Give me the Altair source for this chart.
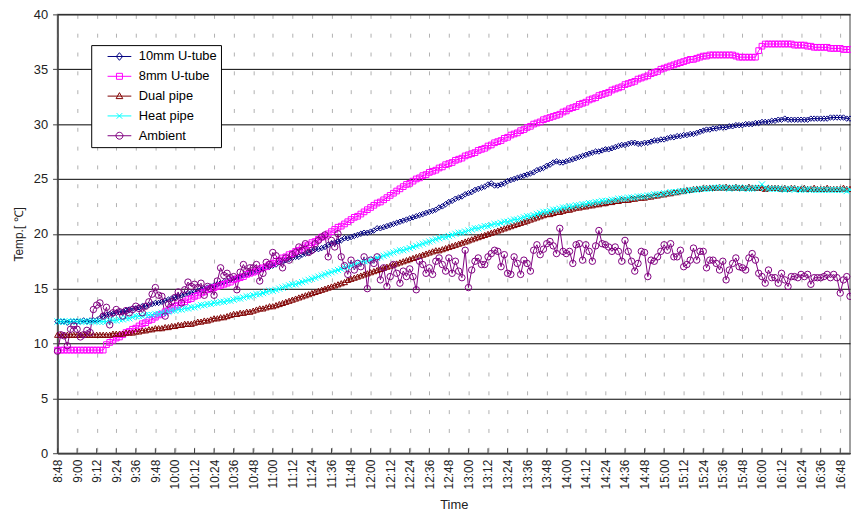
import altair as alt
import pandas as pd

FONT = "Liberation Sans"
START_MIN = 8 * 60 + 48
STEP_MIN = 2

series_names = ["10mm U-tube", "8mm U-tube", "Dual pipe", "Heat pipe", "Ambient"]
series_colors = ["#000080", "#FF00FF", "#800000", "#00FFFF", "#800080"]
series_shapes = ["diamond", "square", "triangle-up", "M-1,-1L1,1M-1,1L1,-1", "circle"]
series_sizes = [30, 42, 34, 36, 50]
tick_minutes = list(range(0, 481, 12))

tube_10mm = [
    12.0, 12.0, 12.0, 11.9, 12.0, 12.0, 12.0, 12.0, 12.1, 12.0, 12.1, 12.1,
    12.1, 12.3, 12.5, 12.6, 12.7, 12.7, 12.8, 12.9, 12.9, 13.0, 13.1, 13.2,
    13.2, 13.3, 13.4, 13.4, 13.5, 13.6, 13.7, 13.7, 13.8, 13.9, 14.0, 14.1,
    14.2, 14.3, 14.4, 14.5, 14.6, 14.6, 14.7, 14.8, 14.9, 15.0, 15.1, 15.2,
    15.3, 15.4, 15.5, 15.6, 15.7, 15.8, 15.9, 16.0, 16.1, 16.2, 16.3, 16.4,
    16.5, 16.6, 16.7, 16.8, 17.0, 17.0, 17.1, 17.2, 17.4, 17.5, 17.6, 17.7,
    17.8, 17.9, 17.9, 18.1, 18.2, 18.3, 18.4, 18.6, 18.6, 18.7, 18.8, 19.0,
    19.1, 19.2, 19.3, 19.4, 19.6, 19.6, 19.7, 19.8, 19.9, 20.0, 20.1, 20.1,
    20.2, 20.3, 20.5, 20.5, 20.6, 20.7, 20.8, 20.9, 21.0, 21.1, 21.2, 21.3,
    21.4, 21.5, 21.6, 21.7, 21.8, 21.9, 22.0, 22.1, 22.2, 22.4, 22.5, 22.7,
    22.9, 23.0, 23.2, 23.3, 23.4, 23.6, 23.7, 23.8, 24.0, 24.1, 24.2, 24.3,
    24.5, 24.6, 24.4, 24.4, 24.5, 24.6, 24.8, 24.9, 25.0, 25.1, 25.2, 25.3,
    25.4, 25.5, 25.6, 25.8, 25.9, 26.0, 26.2, 26.3, 26.5, 26.6, 26.5, 26.5,
    26.6, 26.7, 26.8, 26.9, 27.0, 27.1, 27.2, 27.3, 27.4, 27.5, 27.5, 27.6,
    27.7, 27.7, 27.8, 27.9, 28.0, 28.1, 28.1, 28.2, 28.3, 28.3, 28.2, 28.2,
    28.3, 28.3, 28.4, 28.5, 28.5, 28.6, 28.6, 28.7, 28.8, 28.8, 28.9, 28.9,
    29.0, 29.0, 29.1, 29.1, 29.2, 29.3, 29.4, 29.5, 29.5, 29.6, 29.6, 29.7,
    29.7, 29.7, 29.8, 29.8, 29.9, 29.9, 29.9, 30.0, 30.0, 30.0, 30.1, 30.1,
    30.2, 30.2, 30.2, 30.3, 30.3, 30.4, 30.4, 30.5, 30.4, 30.4, 30.4, 30.4,
    30.4, 30.4, 30.4, 30.5, 30.5, 30.5, 30.5, 30.5, 30.5, 30.6, 30.6, 30.6,
    30.6, 30.6, 30.5, 30.5,
]

tube_8mm = [
    9.4, 9.4, 9.4, 9.4, 9.4, 9.4, 9.4, 9.4, 9.4, 9.4, 9.4, 9.4,
    9.4, 9.4, 9.4, 9.9, 10.1, 10.3, 10.5, 10.6, 10.8, 11.0, 11.1, 11.3,
    11.4, 11.6, 11.8, 11.9, 12.1, 12.2, 12.4, 12.6, 12.7, 12.9, 13.0, 13.2,
    13.4, 13.5, 13.7, 13.8, 14.0, 14.1, 14.3, 14.4, 14.6, 14.7, 14.9, 15.0,
    15.1, 15.2, 15.3, 15.4, 15.5, 15.6, 15.8, 15.9, 16.0, 16.1, 16.3, 16.4,
    16.5, 16.6, 16.8, 16.9, 17.0, 17.2, 17.3, 17.5, 17.6, 17.8, 17.9, 18.1,
    18.2, 18.4, 18.5, 18.7, 18.9, 19.0, 19.2, 19.3, 19.5, 19.7, 19.8, 20.0,
    20.2, 20.4, 20.6, 20.7, 20.9, 21.1, 21.3, 21.5, 21.6, 21.8, 22.0, 22.2,
    22.4, 22.6, 22.8, 22.9, 23.1, 23.3, 23.5, 23.7, 23.9, 24.1, 24.3, 24.5,
    24.6, 24.8, 25.0, 25.1, 25.3, 25.4, 25.6, 25.7, 25.8, 26.0, 26.1, 26.3,
    26.4, 26.5, 26.7, 26.8, 26.9, 27.1, 27.2, 27.3, 27.4, 27.6, 27.7, 27.8,
    28.0, 28.1, 28.3, 28.4, 28.5, 28.7, 28.8, 29.0, 29.1, 29.2, 29.4, 29.5,
    29.7, 29.8, 30.0, 30.1, 30.2, 30.4, 30.5, 30.6, 30.7, 30.8, 30.9, 31.1,
    31.2, 31.4, 31.5, 31.6, 31.8, 31.9, 32.0, 32.2, 32.3, 32.4, 32.6, 32.7,
    32.8, 32.9, 33.1, 33.2, 33.3, 33.4, 33.6, 33.7, 33.8, 33.9, 34.1, 34.2,
    34.3, 34.4, 34.6, 34.7, 34.8, 35.0, 35.1, 35.2, 35.3, 35.4, 35.5, 35.6,
    35.7, 35.8, 35.9, 35.9, 36.0, 36.1, 36.2, 36.2, 36.3, 36.3, 36.3, 36.3,
    36.3, 36.3, 36.3, 36.3, 36.2, 36.1, 36.1, 36.1, 36.1, 36.1, 36.1, 36.7,
    37.1, 37.3, 37.3, 37.3, 37.3, 37.3, 37.3, 37.3, 37.3, 37.3, 37.2, 37.2,
    37.2, 37.2, 37.1, 37.1, 37.0, 37.0, 37.0, 37.0, 37.0, 36.9, 36.9, 36.9,
    36.9, 36.8, 36.8, 36.8,
]

dual_pipe = [
    10.8, 10.8, 10.8, 10.8, 10.8, 10.8, 10.8, 10.8, 10.8, 10.8, 10.8, 10.8,
    10.8, 10.8, 10.8, 10.8, 10.8, 10.9, 10.9, 10.9, 10.9, 11.0, 11.0, 11.0,
    11.1, 11.1, 11.2, 11.2, 11.3, 11.3, 11.4, 11.4, 11.4, 11.5, 11.5, 11.6,
    11.6, 11.7, 11.7, 11.8, 11.8, 11.8, 11.9, 12.0, 12.0, 12.1, 12.1, 12.2,
    12.3, 12.3, 12.4, 12.4, 12.5, 12.6, 12.7, 12.7, 12.8, 12.8, 12.9, 12.9,
    13.0, 13.1, 13.2, 13.2, 13.3, 13.4, 13.4, 13.5, 13.6, 13.7, 13.8, 13.9,
    14.0, 14.1, 14.2, 14.3, 14.4, 14.5, 14.6, 14.7, 14.8, 14.9, 15.0, 15.1,
    15.2, 15.3, 15.4, 15.5, 15.6, 15.8, 15.9, 16.0, 16.1, 16.2, 16.3, 16.4,
    16.5, 16.6, 16.7, 16.8, 16.9, 17.0, 17.1, 17.2, 17.3, 17.4, 17.5, 17.6,
    17.7, 17.8, 17.9, 18.0, 18.1, 18.2, 18.3, 18.4, 18.5, 18.5, 18.6, 18.7,
    18.8, 18.9, 19.0, 19.1, 19.2, 19.3, 19.4, 19.5, 19.6, 19.7, 19.8, 19.9,
    20.0, 20.1, 20.2, 20.3, 20.4, 20.5, 20.6, 20.7, 20.8, 20.9, 21.0, 21.1,
    21.2, 21.3, 21.4, 21.5, 21.6, 21.7, 21.8, 21.8, 21.9, 22.0, 22.0, 22.1,
    22.2, 22.2, 22.3, 22.4, 22.4, 22.5, 22.5, 22.6, 22.6, 22.7, 22.7, 22.8,
    22.8, 22.9, 22.9, 23.0, 23.0, 23.1, 23.1, 23.1, 23.2, 23.2, 23.3, 23.3,
    23.3, 23.4, 23.4, 23.5, 23.5, 23.6, 23.6, 23.7, 23.7, 23.8, 23.8, 23.9,
    23.9, 24.0, 24.0, 24.1, 24.1, 24.1, 24.2, 24.2, 24.2, 24.2, 24.2, 24.3,
    24.2, 24.3, 24.2, 24.2, 24.3, 24.2, 24.2, 24.2, 24.3, 24.2, 24.2, 24.2,
    24.2, 24.1, 24.2, 24.2, 24.2, 24.2, 24.1, 24.2, 24.1, 24.2, 24.2, 24.1,
    24.1, 24.2, 24.1, 24.1, 24.2, 24.1, 24.1, 24.1, 24.2, 24.1, 24.1, 24.1,
    24.1, 24.2, 24.1, 24.1,
]

heat_pipe = [
    12.0, 12.0, 12.0, 12.0, 12.0, 12.0, 12.0, 12.0, 12.0, 12.0, 12.0, 12.0,
    12.0, 12.0, 12.0, 12.0, 12.1, 12.1, 12.1, 12.2, 12.2, 12.3, 12.3, 12.4,
    12.5, 12.5, 12.5, 12.6, 12.6, 12.6, 12.7, 12.7, 12.8, 12.8, 12.9, 13.0,
    13.0, 13.1, 13.1, 13.2, 13.2, 13.3, 13.3, 13.4, 13.5, 13.5, 13.6, 13.6,
    13.7, 13.7, 13.8, 13.8, 13.9, 13.9, 14.0, 14.1, 14.1, 14.2, 14.3, 14.3,
    14.4, 14.5, 14.5, 14.6, 14.7, 14.8, 14.8, 14.9, 15.0, 15.1, 15.2, 15.3,
    15.4, 15.4, 15.5, 15.6, 15.7, 15.8, 15.9, 16.0, 16.1, 16.2, 16.3, 16.4,
    16.5, 16.6, 16.7, 16.8, 16.9, 17.0, 17.1, 17.2, 17.3, 17.4, 17.5, 17.5,
    17.6, 17.7, 17.8, 17.9, 18.0, 18.1, 18.2, 18.3, 18.4, 18.5, 18.5, 18.6,
    18.7, 18.8, 18.9, 19.0, 19.1, 19.2, 19.3, 19.4, 19.5, 19.6, 19.7, 19.7,
    19.8, 19.9, 20.0, 20.1, 20.1, 20.2, 20.3, 20.4, 20.5, 20.5, 20.6, 20.7,
    20.7, 20.8, 20.9, 20.9, 21.0, 21.1, 21.1, 21.2, 21.3, 21.3, 21.4, 21.5,
    21.6, 21.6, 21.7, 21.8, 21.9, 22.0, 22.0, 22.1, 22.2, 22.2, 22.3, 22.4,
    22.4, 22.5, 22.5, 22.6, 22.6, 22.7, 22.7, 22.8, 22.8, 22.9, 22.9, 23.0,
    23.0, 23.0, 23.1, 23.1, 23.2, 23.2, 23.2, 23.3, 23.3, 23.3, 23.4, 23.4,
    23.4, 23.5, 23.5, 23.6, 23.6, 23.6, 23.7, 23.7, 23.8, 23.8, 23.8, 23.9,
    23.9, 23.9, 24.0, 24.0, 24.0, 24.1, 24.1, 24.1, 24.1, 24.2, 24.2, 24.2,
    24.2, 24.2, 24.1, 24.2, 24.2, 24.2, 24.1, 24.2, 24.1, 24.1, 24.2, 24.2,
    24.5, 24.2, 24.1, 24.1, 24.1, 24.1, 24.1, 24.0, 24.1, 24.1, 24.0, 24.1,
    24.0, 24.0, 24.1, 24.0, 24.0, 24.0, 24.0, 24.0, 24.0, 24.0, 24.0, 24.0,
    24.0, 24.0, 23.9, 24.0,
]

ambient = [
    9.3, 10.8, 10.7, 9.8, 11.3, 11.6, 11.3, 10.6, 10.8, 11.2, 11.0,
    13.1, 13.5, 13.7, 12.5, 13.3, 11.7, 12.8, 13.1, 12.9, 12.5,
    13.0, 12.8, 13.1, 13.4, 13.2, 12.8, 13.4, 13.8, 14.5, 15.1,
    14.4, 14.3, 12.5, 13.6, 13.8, 14.2, 14.7, 13.7, 14.9, 15.6,
    15.2, 15.4, 15.1, 15.5, 14.4, 15.2, 15.0, 14.4, 15.7, 16.9,
    16.2, 16.4, 16.0, 16.1, 14.9, 16.5, 17.2, 16.6, 16.9, 16.9,
    17.2, 15.7, 16.4, 17.4, 17.2, 18.3, 18.0, 17.5, 16.9, 17.8,
    17.6, 18.1, 18.3, 18.8, 18.5, 19.1, 18.3, 18.5, 19.1, 19.4,
    19.7, 19.9, 17.9, 19.4, 18.8, 20.0, 17.9, 17.1, 16.3, 17.6,
    16.7, 17.3, 17.0, 17.9, 15.0, 17.6, 17.3, 17.9, 15.8, 16.9,
    15.2, 16.1, 17.2, 16.4, 15.5, 16.6, 16.1, 16.8, 16.1, 14.9,
    17.5, 17.2, 16.4, 16.9, 16.3, 17.5, 17.8, 17.2, 16.6, 17.8,
    16.4, 17.5, 16.6, 16.0, 18.5, 15.1, 16.7, 17.5, 17.8, 17.2,
    17.2, 17.9, 18.2, 18.5, 18.4, 17.0, 18.1, 16.4, 16.3, 17.9,
    17.3, 16.3, 17.6, 17.3, 16.6, 18.5, 19.0, 18.1, 18.6, 19.1,
    19.3, 18.9, 18.2, 20.5, 18.4, 18.2, 18.4, 17.3, 19.0, 19.1,
    17.6, 19.0, 18.4, 17.5, 18.9, 20.3, 19.1, 19.0, 18.8, 18.4,
    18.8, 18.4, 17.5, 19.4, 18.4, 17.5, 16.6, 17.3, 18.4, 18.3,
    16.1, 17.6, 17.5, 17.9, 18.4, 19.0, 18.5, 19.1, 17.9, 17.9,
    18.5, 17.0, 17.2, 17.6, 18.7, 17.6, 18.4, 18.4, 16.9, 17.6,
    17.6, 17.3, 16.7, 17.5, 15.8, 16.7, 17.3, 17.8, 17.0, 16.9,
    16.7, 17.8, 18.2, 17.6, 16.4, 16.1, 15.5, 16.7, 16.0, 16.0,
    15.5, 16.4, 15.8, 15.2, 16.1, 16.1, 16.0, 16.3, 16.1, 16.3,
    15.4, 16.0, 16.0, 16.0, 16.1, 16.3, 16.0, 16.3, 16.0, 14.6,
    15.8, 16.1, 14.3,
]

all_series = [tube_10mm, tube_8mm, dual_pipe, heat_pipe, ambient]

rows = []
for i, (name, vals) in enumerate(zip(series_names, all_series)):
    for k, v in enumerate(vals):
        rows.append({"series": name, "marker": name, "order": i,
                     "t": k * STEP_MIN, "temp": v})
df = pd.DataFrame(rows)
ticks_df = pd.DataFrame({"t": tick_minutes})
legend_df = pd.DataFrame({"series": series_names, "t": [None] * 5, "temp": [None] * 5})

label_expr = (
    f"floor((datum.value+{START_MIN})/60) + ':' + "
    f"((datum.value+{START_MIN})%60 < 10 ? '0' : '') + ((datum.value+{START_MIN})%60)"
)

x_scale = alt.Scale(domain=[0, 486], nice=False, zero=False)
y_scale = alt.Scale(domain=[0, 40], nice=False)

x_axis = alt.Axis(
    values=tick_minutes,
    labelExpr=label_expr,
    labelAngle=270,
    labelOverlap=False,
    labelFlush=False,
    title="Time",
    grid=True,
    gridDash=[4, 15],
    gridColor="#b0b0b0",
    gridWidth=1,
    ticks=False,
    labelPadding=6,
    titlePadding=10,
    labelFontSize=12,
    titleFontSize=13,
)
y_axis = alt.Axis(
    values=list(range(0, 41, 5)),
    title="Temp.[ ℃]",
    grid=True,
    gridColor="#000000",
    gridWidth=1,
    tickSize=5,
    tickColor="#404040",
    labelPadding=5,
    titlePadding=8,
    labelFontSize=13,
    titleFontSize=12,
)

x_enc = alt.X("t:Q", scale=x_scale, axis=x_axis)
y_enc = alt.Y("temp:Q", scale=y_scale, axis=y_axis)

# legend symbols: a short line with the series marker (unit = 7 px)
_line = "M-1.71,0H1.71"
legend_paths = [
    _line + "M0,-0.55L0.45,0L0,0.55L-0.45,0Z",
    _line + "M-0.43,-0.43H0.43V0.43H-0.43Z",
    _line + "M0,-0.5L0.48,0.36H-0.48Z",
    _line + "M-0.4,-0.4L0.4,0.4M-0.4,0.4L0.4,-0.4",
    _line + "M-0.5,0A0.5,0.5,0,1,0,0.5,0A0.5,0.5,0,1,0,-0.5,0",
]

color_scale = alt.Scale(domain=series_names, range=series_colors)

legend_props = dict(
    title=None,
    orient="none",
    legendX=34,
    legendY=31,
    padding=4,
    fillColor="white",
    strokeColor="black",
    labelFont=FONT,
    labelFontSize=13,
    labelColor="black",
    symbolSize=196,
    symbolOffset=17,
    labelOffset=12,
    rowPadding=5,
    symbolStrokeWidth=1,
    symbolOpacity=1,
)

inner_ticks = alt.Chart(ticks_df).mark_rule(color="#404040", strokeWidth=1).encode(
    x=x_enc,
    y=alt.value(443),
    y2=alt.value(438),
)

lines = alt.Chart(df).mark_line(strokeWidth=1, opacity=1).encode(
    x=x_enc,
    y=y_enc,
    color=alt.Color("series:N", scale=color_scale, legend=None),
    detail="series:N",
)

points = alt.Chart(df).mark_point(filled=False, strokeWidth=1, opacity=1).encode(
    x=x_enc,
    y=y_enc,
    color=alt.Color("series:N", scale=color_scale, legend=None),
    shape=alt.Shape("marker:N", scale=alt.Scale(domain=series_names, range=series_shapes), legend=None),
    size=alt.Size("marker:N", scale=alt.Scale(domain=series_names, range=series_sizes), legend=None),
    order=alt.Order("order:Q"),
)

legend_layer = alt.Chart(legend_df).mark_point(filled=False, strokeWidth=1, size=196, opacity=1).encode(
    x=x_enc,
    y=y_enc,
    color=alt.Color("series:N", scale=color_scale, legend=alt.Legend(**legend_props)),
    shape=alt.Shape("series:N", scale=alt.Scale(domain=series_names, range=legend_paths),
                    legend=alt.Legend(**legend_props)),
)

chart = (
    alt.layer(inner_ticks, lines, points, legend_layer)
    .resolve_scale(color="independent", shape="independent", size="independent")
    .properties(
        width=800,
        height=443,
        autosize=alt.AutoSizeParams(type="none"),
        padding={"left": 50, "top": 4, "right": 1, "bottom": 70},
        background="white",
    )
    .configure_view(stroke="#808080", strokeWidth=1.5)
    .configure_axis(
        labelFont=FONT,
        titleFont=FONT,
        labelColor="#222222",
        titleColor="#222222",
        titleFontWeight="normal",
        domainColor="#404040",
        domainWidth=1.5,
    )
)

chart.save("out.html", embed_options={"renderer": "svg", "actions": False})
